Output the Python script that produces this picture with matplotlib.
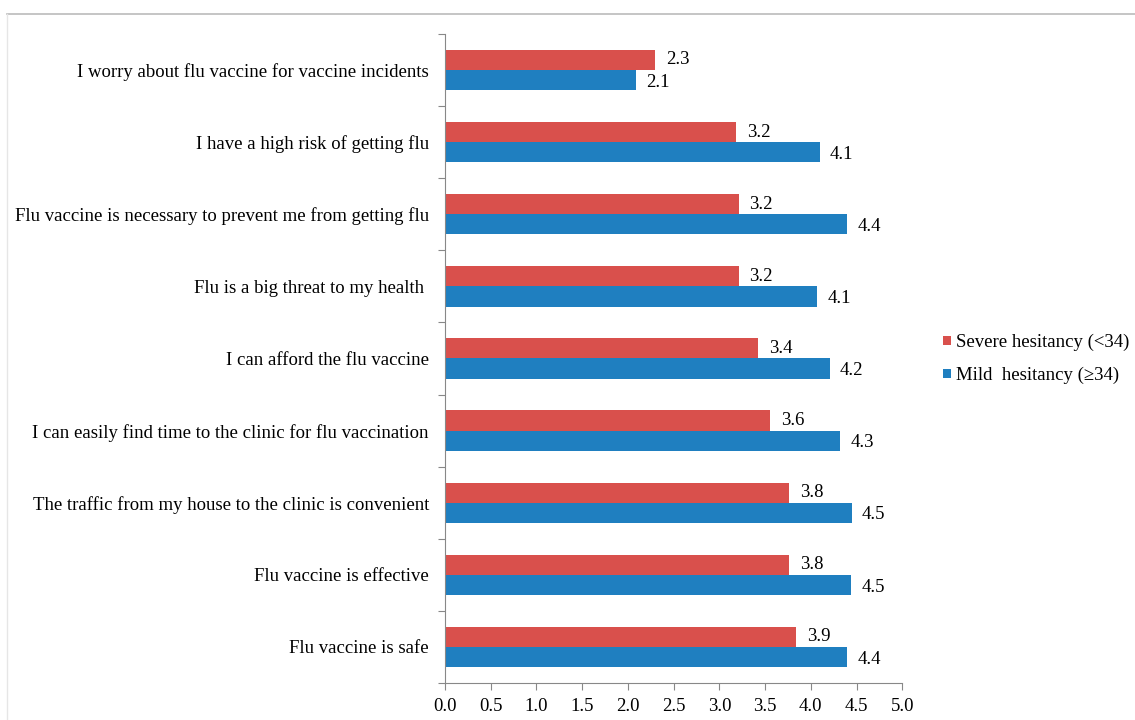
import matplotlib.pyplot as plt
from matplotlib.lines import Line2D

plt.rcParams['font.family'] = ['Liberation Serif', 'DejaVu Serif']

# categories listed top to bottom
categories = [
    "I worry about flu vaccine for vaccine incidents",
    "I have a high risk of getting flu",
    "Flu vaccine is necessary to prevent me from getting flu",
    "Flu is a big threat to my health ",
    "I can afford the flu vaccine",
    "I can easily find time to the clinic for flu vaccination",
    "The traffic from my house to the clinic is convenient",
    "Flu vaccine is effective",
    "Flu vaccine is safe",
]
severe = [2.30, 3.18, 3.21, 3.21, 3.42, 3.55, 3.76, 3.76, 3.84]
mild = [2.09, 4.10, 4.40, 4.07, 4.21, 4.32, 4.45, 4.44, 4.40]
severe_labels = ["2.3", "3.2", "3.2", "3.2", "3.4", "3.6", "3.8", "3.8", "3.9"]
mild_labels = ["2.1", "4.1", "4.4", "4.1", "4.2", "4.3", "4.5", "4.5", "4.4"]

red = "#D9504C"
blue = "#1F7FC0"
fs = 13.5

fig = plt.figure(figsize=(11.35, 7.2), dpi=100)
ax = fig.add_axes([0.392, 0.0514, 0.403, 0.9014])

n = len(categories)
pos = [n - 1 - i for i in range(n)]
h = 0.28
bs = ax.barh([p + h / 2 for p in pos], severe, height=h, color=red,
             label="Severe hesitancy (<34)")
bm = ax.barh([p - h / 2 for p in pos], mild, height=h, color=blue,
             label="Mild  hesitancy (\u226534)")

for p, v, t in zip(pos, severe, severe_labels):
    ax.text(v + 0.12, p + h / 2, t, va="center", ha="left", fontsize=fs)
for p, v, t in zip(pos, mild, mild_labels):
    ax.text(v + 0.11, p - h / 2 - 0.03, t, va="center", ha="left", fontsize=fs)

ax.set_xlim(0, 5)
ax.set_ylim(-0.5, n - 0.5)
ax.set_xticks([i * 0.5 for i in range(11)])
ax.set_xticklabels([f"{i * 0.5:.1f}" for i in range(11)], fontsize=fs)
ax.set_yticks([i - 0.5 for i in range(n + 1)])
ax.set_yticklabels([])
ax.set_yticks(pos, labels=categories, minor=True)
ax.tick_params(axis="y", which="minor", length=0, pad=11.5, labelsize=fs)
ax.tick_params(axis="y", which="major", length=5, color="#888888")
ax.tick_params(axis="x", length=5, color="#888888", pad=6)

for s in ["top", "right"]:
    ax.spines[s].set_visible(False)
for s in ["left", "bottom"]:
    ax.spines[s].set_color("#888888")

fig.legend(handles=[bs, bm], loc="center left", bbox_to_anchor=(943 / 1135, 1 - 359 / 720),
           frameon=False, fontsize=fs, handlelength=0.4, handleheight=0.4,
           handletextpad=0.3, labelspacing=0.85, borderpad=0, borderaxespad=0)

# chart-area frame edges visible in the crop
fig.add_artist(Line2D([7 / 1135, 1], [1 - 14 / 720, 1 - 14 / 720],
                      color="#BBBBBB", lw=1.2, transform=fig.transFigure))
fig.add_artist(Line2D([7 / 1135, 7 / 1135], [0, 1 - 14 / 720],
                      color="#E6E6E6", lw=1.0, transform=fig.transFigure))

fig.savefig("out.png", dpi=100)
